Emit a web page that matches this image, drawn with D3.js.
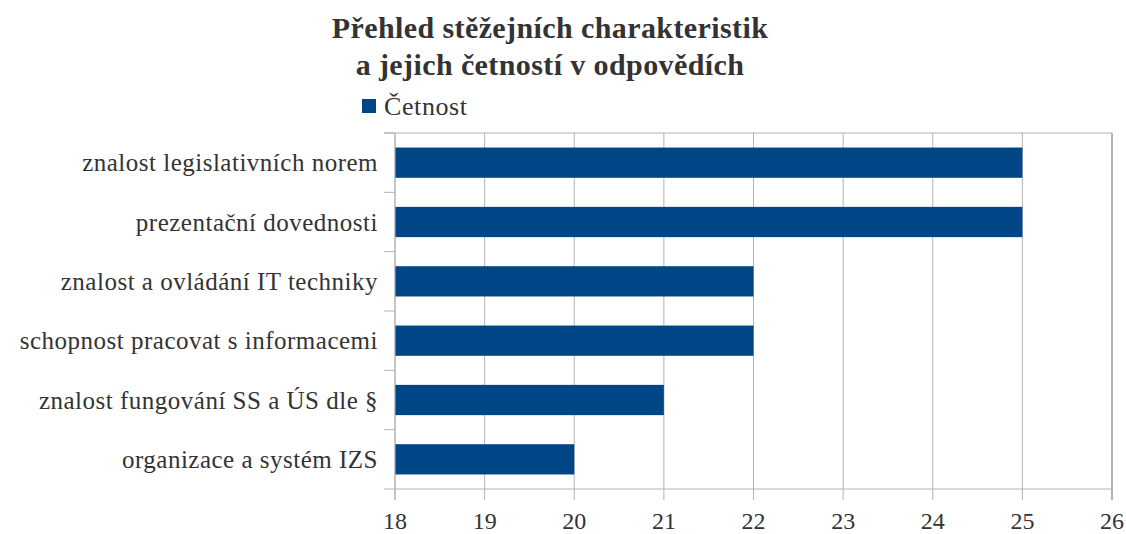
<!DOCTYPE html>
<meta charset="utf-8">
<style>
  body { margin: 0; background: #fff; }
  text { font-family: "Liberation Serif", "Times New Roman", serif; fill: #333; }
</style>
<svg width="1126" height="534"></svg>
<script src="https://cdn.jsdelivr.net/npm/d3@7"></script>
<script>
// data
var categories = [
  "znalost legislativních norem",
  "prezentační dovednosti",
  "znalost a ovládání IT techniky",
  "schopnost pracovat s informacemi",
  "znalost fungování SS a ÚS dle §",
  "organizace a systém IZS"
];
var cetnost = [25, 25, 22, 22, 21, 20];
var xTicks = [18, 19, 20, 21, 22, 23, 24, 25, 26];
var seriesName = "Četnost";
var titleLines = ["Přehled stěžejních charakteristik", "a jejich četností v odpovědích"];

var svg = d3.select("svg");
var margin = {top: 133, right: 14, bottom: 45, left: 395};
var width = +svg.attr("width") - margin.left - margin.right;
var height = +svg.attr("height") - margin.top - margin.bottom;

var gridColor = "#b3b3b3";
var barColor = "#004586";

var x = d3.scaleLinear().domain([18, 26]).range([0, width]);
var y = d3.scaleBand().domain(categories).range([0, height]).paddingInner(0.49).paddingOuter(0.245);
var yBand = d3.scaleBand().domain(categories).range([0, height]);

var g = svg.append("g").attr("transform", "translate(" + margin.left + "," + margin.top + ")");

// vertical gridlines + tick marks below
g.selectAll(".grid")
  .data(xTicks)
  .enter().append("line")
    .attr("x1", function(d) { return x(d); })
    .attr("x2", function(d) { return x(d); })
    .attr("y1", 0)
    .attr("y2", height + 11)
    .attr("stroke", gridColor)
    .attr("stroke-width", 1);

// top line
g.append("line")
  .attr("x1", -11).attr("x2", width)
  .attr("y1", 0).attr("y2", 0)
  .attr("stroke", gridColor);

// category ticks on the left (band boundaries)
var bounds = categories.map(function(c) { return yBand(c); }).concat([height]);
g.selectAll(".ytick")
  .data(bounds)
  .enter().append("line")
    .attr("x1", -11).attr("x2", function(d, i) { return i === bounds.length - 1 ? width : 0; })
    .attr("y1", function(d) { return d; })
    .attr("y2", function(d) { return d; })
    .attr("stroke", gridColor);

// bars
g.selectAll(".bar")
  .data(categories)
  .enter().append("rect")
    .attr("x", x(18))
    .attr("y", function(d) { return y(d); })
    .attr("width", function(d, i) { return x(cetnost[i]) - x(18); })
    .attr("height", y.bandwidth())
    .attr("fill", barColor);

// y axis line
g.append("line")
  .attr("x1", 0).attr("x2", 0)
  .attr("y1", 0).attr("y2", height + 11)
  .attr("stroke", gridColor);

// right border
g.append("line")
  .attr("x1", width).attr("x2", width)
  .attr("y1", 0).attr("y2", height + 11)
  .attr("stroke", gridColor).attr("stroke-width", 2);

// category labels
g.selectAll(".ylabel")
  .data(categories)
  .enter().append("text")
    .attr("x", -17)
    .attr("y", function(d) { return yBand(d) + yBand.bandwidth() / 2; })
    .attr("dy", "0.35em")
    .attr("text-anchor", "end")
    .attr("font-size", 25)
    .attr("letter-spacing", 0.5)
    .text(function(d) { return d; });

// x tick labels
g.selectAll(".xlabel")
  .data(xTicks)
  .enter().append("text")
    .attr("x", function(d) { return x(d); })
    .attr("y", height + 40)
    .attr("text-anchor", "middle")
    .attr("font-size", 24)
    .text(function(d) { return d; });

// title
svg.append("text")
  .attr("x", 550)
  .attr("y", 38)
  .attr("text-anchor", "middle")
  .attr("font-size", 30)
  .attr("font-weight", "bold")
  .attr("letter-spacing", 0.4)
  .selectAll("tspan")
  .data(titleLines)
  .enter().append("tspan")
    .attr("x", 550)
    .attr("dy", function(d, i) { return i === 0 ? 0 : 37; })
    .text(function(d) { return d; });

// legend
svg.append("rect")
  .attr("x", 362).attr("y", 99)
  .attr("width", 14).attr("height", 14)
  .attr("fill", barColor);
svg.append("text")
  .attr("x", 384).attr("y", 115)
  .attr("font-size", 26)
  .attr("letter-spacing", 0.6)
  .text(seriesName);
</script>
